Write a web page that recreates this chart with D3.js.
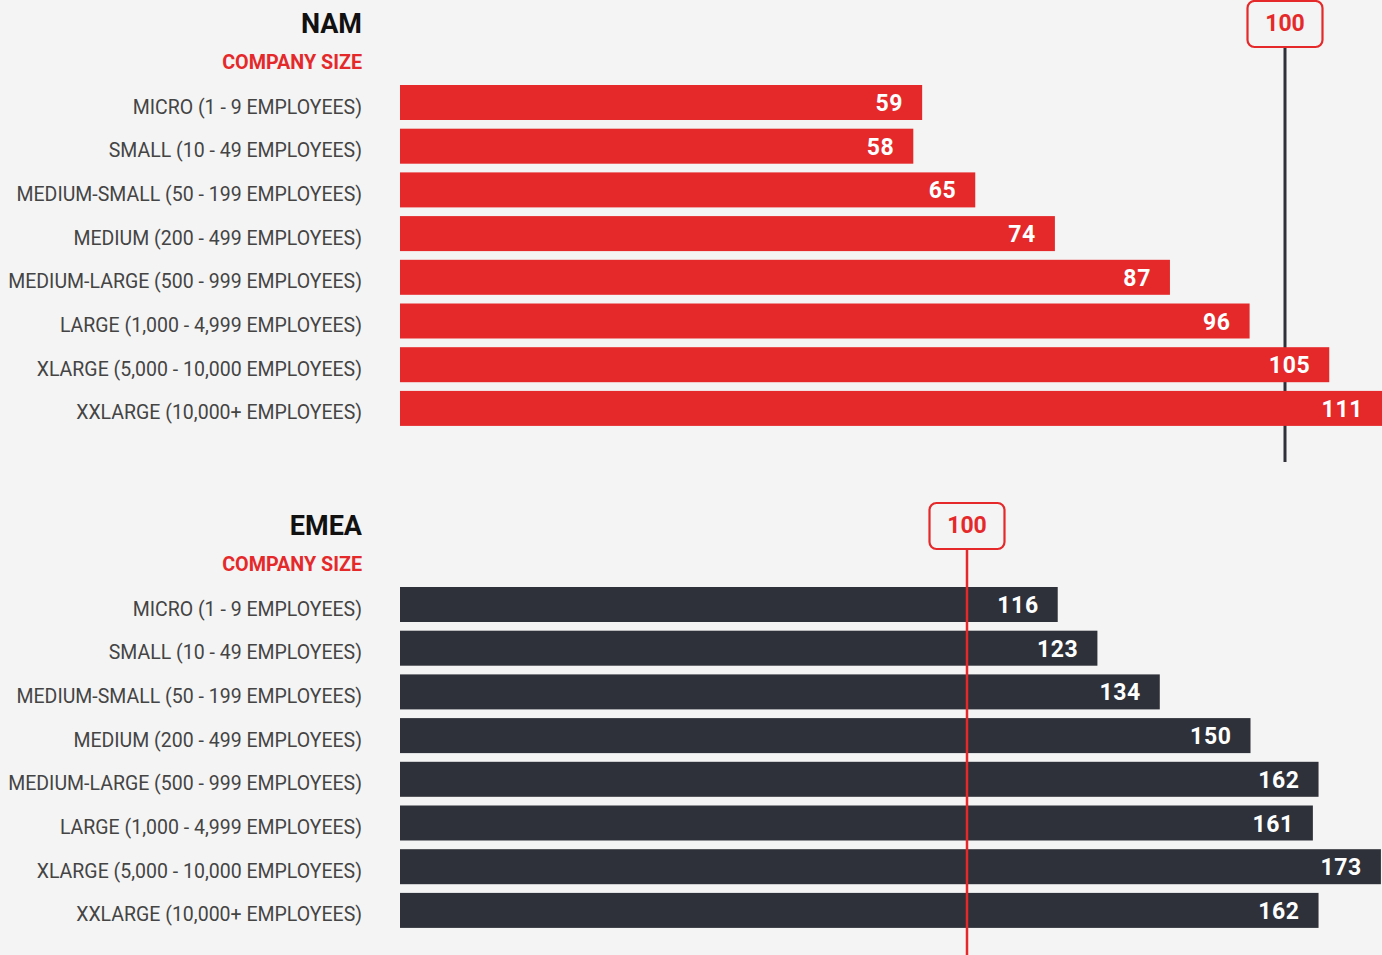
<!DOCTYPE html>
<html><head><meta charset="utf-8">
<script src="https://cdn.jsdelivr.net/npm/d3@7"></script>
<style>html,body{margin:0;padding:0;background:#f4f4f4;}svg{display:block;}</style>
</head><body>
<script>
const categories = ["MICRO (1 - 9 EMPLOYEES)","SMALL (10 - 49 EMPLOYEES)","MEDIUM-SMALL (50 - 199 EMPLOYEES)","MEDIUM (200 - 499 EMPLOYEES)","MEDIUM-LARGE (500 - 999 EMPLOYEES)","LARGE (1,000 - 4,999 EMPLOYEES)","XLARGE (5,000 - 10,000 EMPLOYEES)","XXLARGE (10,000+ EMPLOYEES)"];
const namValues = [59,58,65,74,87,96,105,111];
const emeaValues = [116,123,134,150,162,161,173,162];
const benchmark = 100;
const panelTitles = ["NAM","EMEA"];
const subtitle = "COMPANY SIZE";

const W = 1382, H = 955;
const RED = "#e5292a", DARK = "#2e3139";
const svg = d3.select("body").append("svg").attr("width",W).attr("height",H);
svg.append("rect").attr("width",W).attr("height",H).attr("fill","#f4f4f4");

const panels = [
  {title:panelTitles[0], values:namValues, top:0, x:d3.scaleLinear().domain([0,100]).range([400,1285]), color:RED, lineColor:DARK, lineFront:false, lineEnd:462},
  {title:panelTitles[1], values:emeaValues, top:502, x:d3.scaleLinear().domain([0,100]).range([400,967]), color:DARK, lineColor:RED, lineFront:true, lineEnd:955}
];

panels.forEach(p => {
  const g = svg.append("g").attr("transform",`translate(0,${p.top})`);
  const step = 43.7, bh = 35;
  const y = d3.scaleBand().domain(categories).range([85, 85+step*7+bh]).paddingInner((step-bh)/step).paddingOuter(0);
  g.append("text").attr("x",362).attr("y",33).attr("text-anchor","end")
    .attr("font-family","Roboto").attr("font-weight",700).attr("font-size",27).attr("fill","#111").text(p.title);
  const sub = g.append("g").attr("transform","translate(362,69) scale(0.94,1)");
  sub.append("text").attr("text-anchor","end").attr("font-family","Roboto").attr("font-weight",700)
    .attr("font-size",21).attr("fill",RED).text(subtitle);

  const lineG = g.append("g");
  const drawLine = () => {
    const lx = p.x(benchmark);
    lineG.append("line").attr("x1",lx).attr("x2",lx).attr("y1",47).attr("y2",p.lineEnd)
      .attr("stroke",p.lineColor).attr("stroke-width",p.lineFront?2.5:3);
  };
  if(!p.lineFront) drawLine();

  g.selectAll("rect.bar").data(p.values).join("rect").attr("class","bar")
    .attr("x",p.x(0)).attr("y",(d,i)=>y(categories[i]))
    .attr("width",d=>Math.min(p.x(d),W)-p.x(0)).attr("height",y.bandwidth()).attr("fill",p.color);

  g.selectAll("text.val").data(p.values).join("text").attr("class","val")
    .attr("x",d=>Math.min(p.x(d),W)-19).attr("y",(d,i)=>y(categories[i])+y.bandwidth()/2+8.5)
    .attr("text-anchor","end").attr("font-family","Roboto").attr("font-weight",700)
    .attr("font-size",23).attr("letter-spacing",0.6).attr("fill","#fff").text(d=>d);

  const labs = g.selectAll("g.lab").data(categories).join("g").attr("class","lab");
  labs.append("text").attr("text-anchor","end").attr("font-family","Roboto")
    .attr("font-size",20.5).attr("fill","#444").text(d=>d);
  let maxW = 0;
  labs.select("text").each(function(){maxW=Math.max(maxW,this.getComputedTextLength());});
  const s = 354/maxW;
  labs.attr("transform",d=>`translate(362,${y(d)+y.bandwidth()/2+11}) scale(${s},1)`);

  if(p.lineFront) drawLine();
  if(p.lineFront) lineG.raise();

  const bx = p.x(benchmark);
  g.append("rect").attr("x",bx-37.5).attr("y",1).attr("width",75).attr("height",46).attr("rx",7)
    .attr("fill","#f4f4f4").attr("stroke",RED).attr("stroke-width",2.2);
  g.append("text").attr("x",bx).attr("y",31).attr("text-anchor","middle").attr("font-family","Roboto")
    .attr("font-weight",700).attr("font-size",23).attr("fill",RED).text(benchmark);
});
</script>
</body></html>
